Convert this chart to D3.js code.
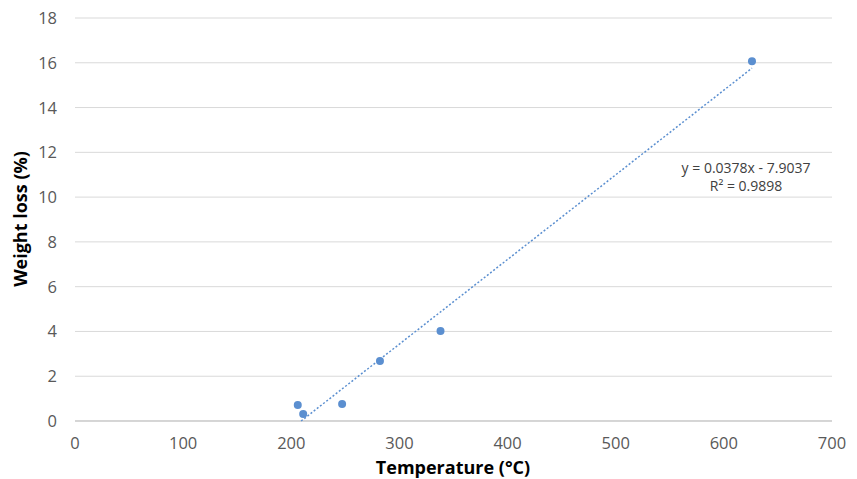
<!DOCTYPE html><html><head><meta charset="utf-8">
<script src="https://cdn.jsdelivr.net/npm/d3@7"></script>
<style>body{margin:0;background:#fff}text{font-family:"Open Sans","Liberation Sans",sans-serif}</style>
</head><body><svg id="c" width="857" height="479"></svg>
<script>
const temps=[206,211,247,282,338,626];
const losses=[0.71,0.31,0.76,2.68,4.02,16.07];
const xTicks=[0,100,200,300,400,500,600,700];
const yTicks=[0,2,4,6,8,10,12,14,16,18];
const slope=0.0378, intercept=-7.9037, r2=0.9898;
const svg=d3.select("#c");
const x=d3.scaleLinear().domain([0,700]).range([75,832]);
const y=d3.scaleLinear().domain([0,18]).range([421,18]);
svg.selectAll(".g").data(yTicks).join("line").attr("x1",75).attr("x2",832)
 .attr("y1",d=>y(d)).attr("y2",d=>y(d)).attr("stroke","#d9d9d9").attr("stroke-width",1);
svg.append("line").attr("x1",75).attr("x2",832).attr("y1",421).attr("y2",421).attr("stroke","#bfbfbf");
svg.selectAll(".yt").data(yTicks).join("text").attr("x",57).attr("y",d=>y(d)+6).attr("text-anchor","end")
 .attr("font-size",16.5).attr("fill","#595959").text(d=>d);
svg.selectAll(".xt").data(xTicks).join("text").attr("x",d=>x(d)).attr("y",449).attr("text-anchor","middle")
 .attr("font-size",16.5).attr("fill","#595959").text(d=>d);
const x0=-intercept/slope, x1=d3.max(temps);
svg.append("line").attr("x1",x(x0)).attr("y1",y(slope*x0+intercept)).attr("x2",x(x1)).attr("y2",y(slope*x1+intercept))
 .attr("stroke","#5b8fd0").attr("stroke-width",1.5).attr("stroke-dasharray","2,2");
svg.selectAll(".p").data(temps).join("circle").attr("cx",d=>x(d)).attr("cy",(d,i)=>y(losses[i])).attr("r",4).attr("fill","#5b8fd0");
svg.append("text").attr("x",746).attr("y",173).attr("text-anchor","middle").attr("font-size",14).attr("fill","#404040")
 .text(`y = ${slope}x - ${-intercept}`);
svg.append("text").attr("x",746).attr("y",191).attr("text-anchor","middle").attr("font-size",14).attr("fill","#404040")
 .text(`R² = ${r2}`);
svg.append("text").attr("x",453).attr("y",474).attr("text-anchor","middle").attr("font-size",18).attr("font-weight","bold").attr("fill","#000").text("Temperature (°C)");
svg.append("text").attr("transform","translate(27,219) rotate(-90)").attr("text-anchor","middle").attr("font-size",18).attr("font-weight","bold").attr("fill","#000").text("Weight loss (%)");
</script></body></html>
